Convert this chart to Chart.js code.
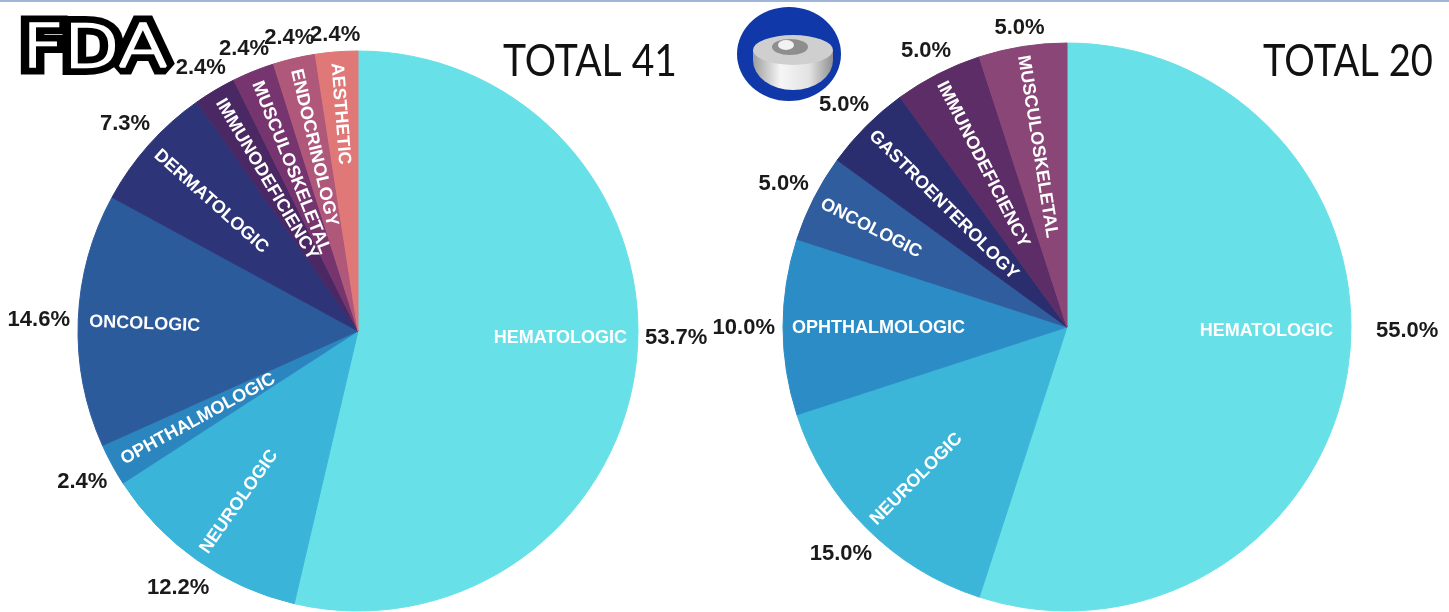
<!DOCTYPE html>
<html><head><meta charset="utf-8">
<script src="https://cdn.jsdelivr.net/npm/chart.js@4.4.1/dist/chart.umd.min.js"></script>
<style>
html,body{margin:0;padding:0;background:#fff;width:1449px;height:612px;overflow:hidden;}
body{position:relative;}
#c1{position:absolute;left:0;top:0;}
#c2{position:absolute;left:690px;top:0;}
#deco{position:absolute;left:0;top:0;pointer-events:none;}
#topline{position:absolute;left:0;top:0;width:1449px;height:2px;background:#9fb6d6;}
</style></head><body>
<canvas id="c1" width="720" height="640"></canvas>
<canvas id="c2" width="759" height="640"></canvas>
<canvas id="deco" width="1449" height="612"></canvas>
<div id="topline"></div>
<script>
// ---- data ----
const fdaCategories = ['HEMATOLOGIC','NEUROLOGIC','OPHTHALMOLOGIC','ONCOLOGIC','DERMATOLOGIC','IMMUNODEFICIENCY','MUSCULOSKELETAL','ENDOCRINOLOGY','AESTHETIC'];
const fdaCounts = [22, 5, 1, 6, 3, 1, 1, 1, 1];
const emaCategories = ['HEMATOLOGIC','NEUROLOGIC','OPHTHALMOLOGIC','ONCOLOGIC','GASTROENTEROLOGY','IMMUNODEFICIENCY','MUSCULOSKELETAL'];
const emaCounts = [11, 3, 2, 1, 1, 1, 1];
const totalPrefix = 'TOTAL ';
const fdaLogoText = 'FDA';

// ---- styles ----
const fdaColors = ['#67e0e7','#3bb4d9','#2b86c0','#2c5b9c','#2e3478','#4a2864','#77356f','#b0587a','#e07878'];
const emaColors = ['#67e0e7','#3bb5d8','#2b8cc6','#2f5d9e','#2a2e6e','#5c2d66','#8a4676'];

const sum = a => a.reduce((s, v) => s + v, 0);

const sliceLabels = {
  id: 'sliceLabels',
  afterDatasetsDraw(chart, args, opts) {
    const ctx = chart.ctx;
    const meta = chart.getDatasetMeta(0);
    const ds = chart.data.datasets[0];
    const total = sum(ds.data);
    meta.data.forEach((arc, i) => {
      const p = arc.getProps(['x','y','startAngle','endAngle','outerRadius'], true);
      const level = i === opts.levelIndex;
      let a = (p.startAngle + p.endAngle) / 2;
      if (level) a = 0;
      const R = p.outerRadius;
      const dy = level ? opts.levelDy : 0;
      const inset = level ? opts.levelInset : opts.nameInset;
      // category name inside the slice
      ctx.save();
      ctx.font = 'bold 18px "Liberation Sans", Arial, sans-serif';
      ctx.fillStyle = '#ffffff';
      ctx.textBaseline = 'middle';
      ctx.translate(p.x + Math.cos(a) * (R - inset), p.y + Math.sin(a) * (R - inset) + dy);
      if (level) { ctx.textAlign = 'right'; }
      else { ctx.rotate(a - Math.PI); ctx.textAlign = 'left'; }
      ctx.fillText(chart.data.labels[i], 0, 1);
      ctx.restore();
      // percentage outside the slice
      const txt = (ds.data[i] / total * 100).toFixed(1) + '%';
      ctx.save();
      ctx.font = 'bold 22px "Liberation Sans", Arial, sans-serif';
      const w = ctx.measureText(txt).width;
      const gap = level ? opts.levelGap : opts.gap;
      const d = R + gap + Math.abs(Math.cos(a)) * w / 2 + Math.abs(Math.sin(a)) * 8;
      ctx.fillStyle = '#1a1a1a';
      ctx.textAlign = 'center';
      ctx.textBaseline = 'middle';
      ctx.fillText(txt, p.x + Math.cos(a) * d, p.y + Math.sin(a) * d + dy + 1);
      ctx.restore();
    });
  }
};

function makePie(id, labels, values, colors, radius, padding, labelOpts) {
  return new Chart(document.getElementById(id), {
    type: 'pie',
    data: {
      labels: labels,
      datasets: [{
        data: values,
        backgroundColor: colors,
        borderColor: colors,
        borderWidth: 1
      }]
    },
    options: {
      responsive: false,
      animation: false,
      devicePixelRatio: 1,
      radius: radius,
      layout: { padding: padding },
      plugins: {
        legend: { display: false },
        tooltip: { enabled: false },
        sliceLabels: labelOpts
      }
    },
    plugins: [sliceLabels]
  });
}

makePie('c1', fdaCategories, fdaCounts, fdaColors, 280,
  { left: 78, right: 82, top: 51, bottom: 29 },
  { levelIndex: 0, levelDy: 6, levelGap: 7, gap: 8, nameInset: 11, levelInset: 11 });
makePie('c2', emaCategories, emaCounts, emaColors, 284,
  { left: 93, right: 98, top: 43, bottom: 29 },
  { levelIndex: 0, levelDy: 3, levelGap: 25, gap: 8, nameInset: 9, levelInset: 18 });

// ---- decorations: titles and logos ----
const d = document.getElementById('deco').getContext('2d');
function titleText(txt, right, base, targetW) {
  d.save();
  d.fillStyle = '#111';
  d.font = '44px Lato, "Open Sans", sans-serif';
  d.textBaseline = 'alphabetic';
  const w = d.measureText(txt).width;
  d.translate(right - targetW, base);
  d.scale(targetW / w, 1);
  d.fillText(txt, 0, 0);
  d.restore();
}
titleText(totalPrefix + sum(fdaCounts), 677, 76, 174);
titleText(totalPrefix + sum(emaCounts), 1433, 76, 170);

// FDA logo: thick black strokes with a thin white inline
d.save();
d.font = '200 58px "DejaVu Sans", sans-serif';
const lw = d.measureText(fdaLogoText).width;
d.translate(22, 67);
d.scale(146 / lw, 1);
d.lineJoin = 'miter';
d.miterLimit = 1.6;
d.strokeStyle = '#000'; d.lineWidth = 16;
d.strokeText(fdaLogoText, 0, 0);
d.fillStyle = '#fff'; d.strokeStyle = '#fff'; d.lineWidth = 2.5;
d.strokeText(fdaLogoText, 0, 0);
d.fillText(fdaLogoText, 0, 0);
d.restore();

// EMA logo
d.save();
d.fillStyle = '#1038a8';
d.beginPath(); d.ellipse(789, 54, 52, 47, 0, 0, Math.PI * 2); d.fill();
const g = d.createLinearGradient(752, 0, 834, 0);
g.addColorStop(0, '#9a9a9a'); g.addColorStop(0.35, '#f6f6f6'); g.addColorStop(0.7, '#e2e2e2'); g.addColorStop(1, '#8c8c8c');
d.fillStyle = g;
d.beginPath();
d.moveTo(753, 50);
d.lineTo(753, 60);
d.ellipse(793, 60, 40, 30, 0, Math.PI, 0, true);
d.lineTo(833, 50);
d.closePath();
d.fill();
d.fillStyle = '#cfcfcf';
d.beginPath(); d.ellipse(793, 50, 40, 15, 0, 0, Math.PI * 2); d.fill();
d.fillStyle = '#8e8e8e';
d.beginPath(); d.ellipse(790, 47, 18, 8, 0, 0, Math.PI * 2); d.fill();
d.fillStyle = '#f2f2f2';
d.beginPath(); d.ellipse(786, 45, 8, 5, 0, 0, Math.PI * 2); d.fill();
d.restore();
</script>
</body></html>
